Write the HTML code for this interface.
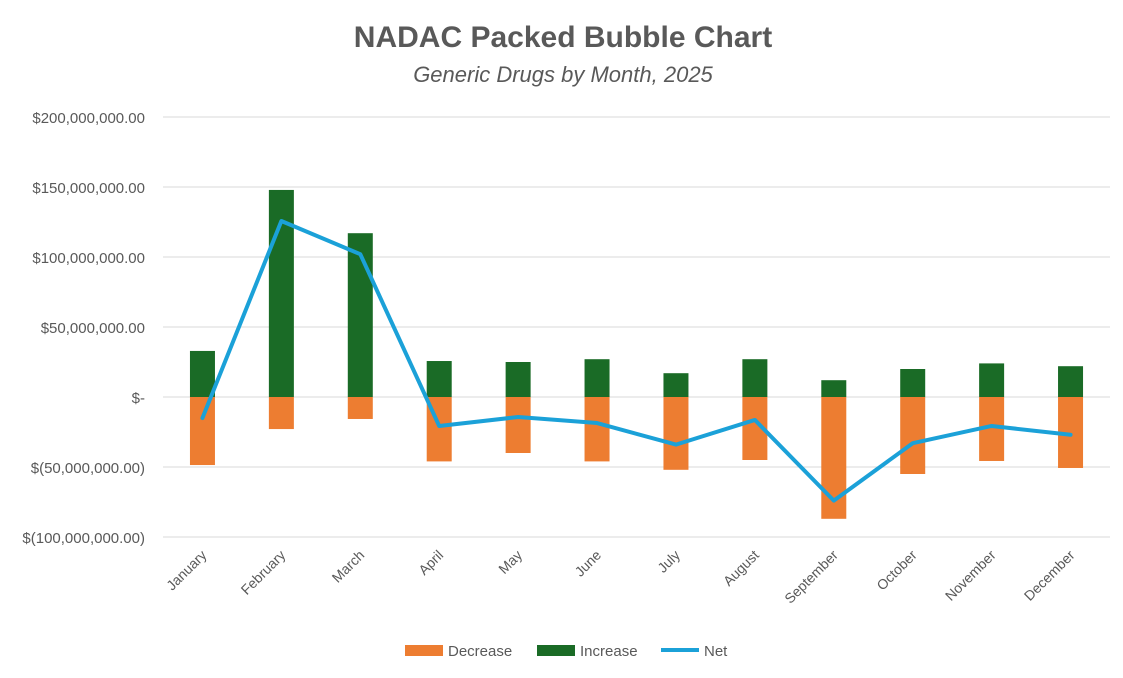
<!DOCTYPE html>
<html><head><meta charset="utf-8"><style>
body{margin:0;background:#fff;font-family:"Liberation Sans",Arial,sans-serif;}
svg text{font-family:"Liberation Sans",Arial,sans-serif;}
</style></head><body>
<svg id="chart" width="1123" height="673" xmlns="http://www.w3.org/2000/svg">
<rect width="1123" height="673" fill="#fff"/>
<text x="563" y="47" text-anchor="middle" font-size="30" font-weight="bold" fill="#595959">NADAC Packed Bubble Chart</text>
<text x="563" y="82" text-anchor="middle" font-size="22" font-style="italic" fill="#595959">Generic Drugs by Month, 2025</text>
<g id="grid"></g><g id="bars"></g><g id="line"></g><g id="xlabels"></g>
<g>
<rect x="405" y="645" width="38" height="11" fill="#ED7D31"/>
<text x="448" y="656" font-size="15" fill="#595959">Decrease</text>
<rect x="537" y="645" width="38" height="11" fill="#1A6B26"/>
<text x="580" y="656" font-size="15" fill="#595959">Increase</text>
<line x1="661" y1="650" x2="699" y2="650" stroke="#1BA1D8" stroke-width="4"/>
<text x="704" y="656" font-size="15" fill="#595959">Net</text>
</g>
</svg>
<script>
const months=["January","February","March","April","May","June","July","August","September","October","November","December"];
const increase=[32.9,147.9,117,25.7,25,27,17,27,12,20,24,22];
const decrease=[-48.6,-22.9,-15.7,-46,-40,-46,-52,-45,-87,-55,-45.7,-50.7];
const net=[-15,125.7,102,-20.7,-14.3,-18.6,-34,-16.4,-74,-33,-20.7,-27];
const ticks=[200,150,100,50,0,-50,-100];
const tickLabels=["$200,000,000.00","$150,000,000.00","$100,000,000.00","$50,000,000.00","$-","$(50,000,000.00)","$(100,000,000.00)"];
const NS="http://www.w3.org/2000/svg";
const left=163,right=1110,y0=397,pxPerM=1.4;
const step=(right-left)/months.length;
const y=v=>y0-v*pxPerM;
const x=i=>left+step*(i+0.5);
function mk(tag,attrs,parent){const e=document.createElementNS(NS,tag);for(const k in attrs)e.setAttribute(k,attrs[k]);parent.appendChild(e);return e;}
const grid=document.getElementById('grid');
ticks.forEach((t,i)=>{
  const l=mk('line',{x1:left,x2:right,y1:y(t),y2:y(t),stroke:'#d9d9d9','stroke-width':1},grid);
  
  
  const tx=mk('text',{x:145,y:y(t)+6,'text-anchor':'end','font-size':15,fill:'#595959'},grid);
  tx.textContent=tickLabels[i];
  
  
});
const bars=document.getElementById('bars');
const bw=25;
months.forEach((m,i)=>{
  const b1=mk('rect',{x:x(i)-bw/2,y:y(increase[i]),width:bw,height:Math.abs(increase[i])*pxPerM,fill:'#1A6B26'},bars);
  
  
  const b2=mk('rect',{x:x(i)-bw/2,y:y0,width:bw,height:Math.abs(decrease[i])*pxPerM,fill:'#ED7D31'},bars);
  
  
  const xl=document.getElementById('xlabels');
  const t=mk('text',{x:x(i)+5,y:556,'text-anchor':'end','font-size':14,fill:'#595959',transform:`rotate(-45 ${x(i)+5} 556)`},xl);
  t.textContent=m;
  
  
});
const pts=net.map((v,i)=>x(i)+','+y(v)).join(' ');
const pl=mk('polyline',{points:pts,fill:'none',stroke:'#1BA1D8','stroke-width':4,'stroke-linejoin':'round','stroke-linecap':'round'},document.getElementById('line'));


</script>
</body></html>
